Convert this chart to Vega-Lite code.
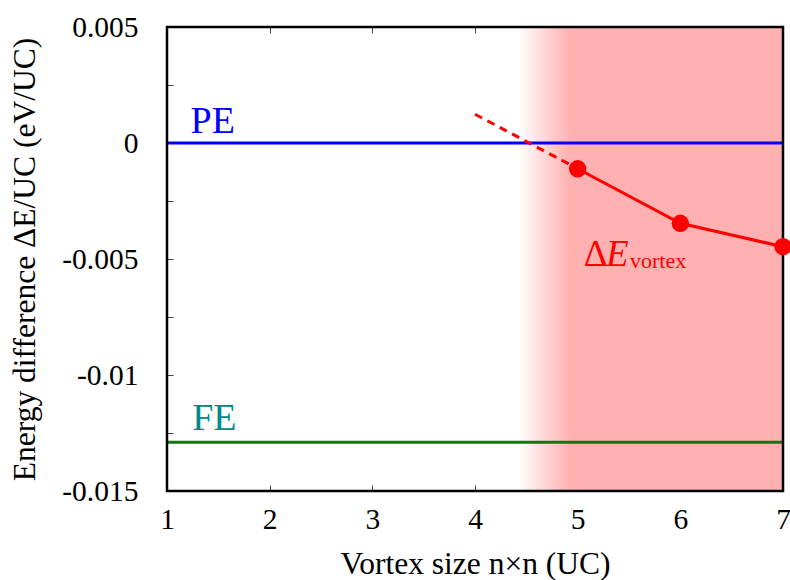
{
  "$schema": "https://vega.github.io/schema/vega-lite/v6.json",
  "width": 616,
  "height": 464,
  "autosize": {"type": "none"},
  "padding": {"left": 167, "top": 27, "right": 7, "bottom": 89},
  "background": "white",
  "config": {
    "font": "Liberation Serif",
    "view": {"stroke": null},
    "axis": {
      "domain": false,
      "grid": false,
      "tickSize": -6,
      "tickColor": "#444444",
      "tickWidth": 1,
      "labelFlush": false,
      "labelFont": "Liberation Serif",
      "labelFontSize": 29.5,
      "labelColor": "black",
      "titleFont": "Liberation Serif",
      "titleFontSize": 31.5,
      "titleFontWeight": "normal",
      "titleColor": "black"
    }
  },
  "resolve": {"axis": {"x": "independent", "y": "independent"}},
  "layer": [
    {
      "data": {"values": [{"start": 4.424, "end": 7}]},
      "mark": {
        "type": "rect",
        "color": {
          "gradient": "linear",
          "x1": 0, "x2": 1, "y1": 0, "y2": 0,
          "stops": [
            {"offset": 0, "color": "#ffffff"},
            {"offset": 0.196, "color": "#ffb0b0"},
            {"offset": 1, "color": "#ffb0b0"}
          ]
        }
      },
      "encoding": {
        "x": {"field": "start", "type": "quantitative", "scale": {"domain": [1, 7], "nice": false, "zero": false}, "axis": null},
        "x2": {"field": "end"}
      }
    },
    {
      "data": {"values": [{"level": "PE", "y": 0}]},
      "mark": {"type": "rule", "color": "#0000ff", "strokeWidth": 3},
      "encoding": {
        "y": {"field": "y", "type": "quantitative", "scale": {"domain": [-0.015, 0.005], "nice": false, "zero": false}, "axis": null}
      }
    },
    {
      "data": {"values": [{"level": "FE", "y": -0.0129}]},
      "mark": {"type": "rule", "color": "#107810", "strokeWidth": 3},
      "encoding": {
        "y": {"field": "y", "type": "quantitative", "axis": null}
      }
    },
    {
      "data": {"values": [{"x0": 1, "x1": 7, "y0": -0.015, "y1": 0.005}]},
      "mark": {"type": "rect", "fill": null, "fillOpacity": 0, "stroke": "black", "strokeWidth": 2.5},
      "encoding": {
        "x": {"field": "x0", "type": "quantitative", "axis": null},
        "x2": {"field": "x1"},
        "y": {"field": "y0", "type": "quantitative", "axis": null},
        "y2": {"field": "y1"}
      }
    },
    {
      "data": {"values": [{"n": 4, "e": 0.00124}, {"n": 5, "e": -0.00111}]},
      "mark": {"type": "line", "color": "#ff0000", "strokeWidth": 3, "strokeDash": [8, 6]},
      "encoding": {
        "x": {"field": "n", "type": "quantitative", "axis": {"orient": "top", "values": [1, 2, 3, 4, 5, 6, 7], "labels": false, "title": null}},
        "y": {"field": "e", "type": "quantitative", "axis": {"orient": "right", "values": [-0.015, -0.0125, -0.01, -0.0075, -0.005, -0.0025, 0, 0.0025, 0.005], "labels": false, "title": null}}
      }
    },
    {
      "data": {"values": [{"n": 5, "e": -0.00111}, {"n": 6, "e": -0.00346}, {"n": 7, "e": -0.00447}]},
      "mark": {"type": "line", "color": "#ff0000", "strokeWidth": 3, "point": {"filled": true, "size": 300, "color": "#ff0000", "opacity": 1}},
      "encoding": {
        "x": {"field": "n", "type": "quantitative", "axis": {"orient": "bottom", "values": [1, 2, 3, 4, 5, 6, 7], "title": "Vortex size n×n (UC)", "labelPadding": 20, "titlePadding": 15}},
        "y": {"field": "e", "type": "quantitative", "axis": {"orient": "left", "values": [-0.015, -0.0125, -0.01, -0.0075, -0.005, -0.0025, 0, 0.0025, 0.005], "labelExpr": "round(datum.value*10000) % 50 == 0 ? '' + datum.value : ''", "title": "Energy difference ΔE/UC (eV/UC)", "labelPadding": 35, "titlePadding": 20}}
      }
    },
    {
      "data": {"values": [{"label": "PE", "n": 1.23, "e": 0.00043}]},
      "mark": {"type": "text", "color": "#0000ff", "fontSize": 38, "font": "Liberation Serif", "align": "left", "baseline": "alphabetic"},
      "encoding": {
        "x": {"field": "n", "type": "quantitative", "axis": null},
        "y": {"field": "e", "type": "quantitative", "axis": null},
        "text": {"field": "label"}
      }
    },
    {
      "data": {"values": [{"label": "FE", "n": 1.245, "e": -0.01237}]},
      "mark": {"type": "text", "color": "#008b8b", "fontSize": 38, "font": "Liberation Serif", "align": "left", "baseline": "alphabetic"},
      "encoding": {
        "x": {"field": "n", "type": "quantitative", "axis": null},
        "y": {"field": "e", "type": "quantitative", "axis": null},
        "text": {"field": "label"}
      }
    },
    {
      "data": {"values": [{"label": "Δ", "n": 5.06, "e": -0.0053}]},
      "mark": {"type": "text", "color": "#ff0000", "fontSize": 37, "font": "Liberation Serif", "align": "left", "baseline": "alphabetic"},
      "encoding": {
        "x": {"field": "n", "type": "quantitative", "axis": null},
        "y": {"field": "e", "type": "quantitative", "axis": null},
        "text": {"field": "label"}
      }
    },
    {
      "data": {"values": [{"label": "E", "n": 5.275, "e": -0.0053}]},
      "mark": {"type": "text", "color": "#ff0000", "fontSize": 37, "font": "Liberation Serif", "fontStyle": "italic", "align": "left", "baseline": "alphabetic"},
      "encoding": {
        "x": {"field": "n", "type": "quantitative", "axis": null},
        "y": {"field": "e", "type": "quantitative", "axis": null},
        "text": {"field": "label"}
      }
    },
    {
      "data": {"values": [{"label": "vortex", "n": 5.51, "e": -0.00539}]},
      "mark": {"type": "text", "color": "#ff0000", "fontSize": 22, "font": "Liberation Serif", "align": "left", "baseline": "alphabetic"},
      "encoding": {
        "x": {"field": "n", "type": "quantitative", "axis": null},
        "y": {"field": "e", "type": "quantitative", "axis": null},
        "text": {"field": "label"}
      }
    }
  ]
}
